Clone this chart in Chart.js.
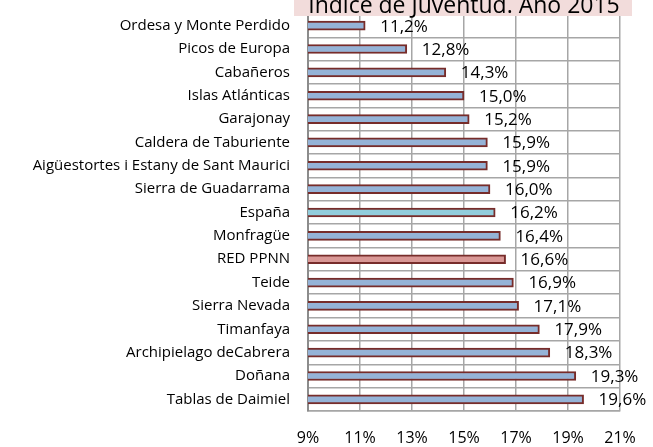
<!DOCTYPE html>
<html>
<head>
<meta charset="utf-8">
<style>
    html, body { margin: 0; padding: 0; background: #fff; }
    #wrap { width: 653px; height: 447px; }
</style>
</head>
<body>
    <div id="wrap">
        <canvas id="myChart"></canvas>
    </div>
    <script src="https://cdn.jsdelivr.net/npm/chart.js"></script>
    <script>
        // datos del gráfico
        const parques = ['Ordesa y Monte Perdido', 'Picos de Europa', 'Cabañeros', 'Islas Atlánticas',
            'Garajonay', 'Caldera de Taburiente', 'Aigüestortes i Estany de Sant Maurici',
            'Sierra de Guadarrama', 'España', 'Monfragüe', 'RED PPNN', 'Teide', 'Sierra Nevada',
            'Timanfaya', 'Archipielago deCabrera', 'Doñana', 'Tablas de Daimiel'];
        const indice = [11.2, 12.8, 14.3, 15.0, 15.2, 15.9, 15.9, 16.0, 16.2, 16.4, 16.6, 16.9, 17.1, 17.9, 18.3, 19.3, 19.6];
        const ticksX = [9, 11, 13, 15, 17, 19, 21];
        const titulo = 'Índice de Juventud. Año 2015';

        const FONT = '"Open Sans", sans-serif';

        const colores = parques.map(p => {
            if (p === 'España') return '#92cddc';
            if (p === 'RED PPNN') return '#d99795';
            return '#95b3d7';
        });

        // etiquetas de valor a la derecha de cada barra
        const etiquetas = {
            id: 'etiquetas',
            afterDatasetsDraw(chart) {
                const ctx = chart.ctx;
                const meta = chart.getDatasetMeta(0);
                ctx.save();
                ctx.font = '17px ' + FONT;
                ctx.fillStyle = '#000';
                ctx.textBaseline = 'middle';
                ctx.textAlign = 'left';
                meta.data.forEach((bar, i) => {
                    const txt = indice[i].toFixed(1).replace('.', ',') + '%';
                    ctx.fillText(txt, bar.x + 15, bar.y + 1);
                });
                ctx.restore();
            }
        };

        // titulo con fondo rosa (cortado arriba)
        const cabecera = {
            id: 'cabecera',
            afterDraw(chart) {
                const ctx = chart.ctx;
                ctx.save();
                ctx.fillStyle = '#f2dcdb';
                ctx.fillRect(294, 0, 338, 16);
                ctx.font = '23px ' + FONT;
                ctx.fillStyle = '#000';
                ctx.textAlign = 'center';
                ctx.textBaseline = 'alphabetic';
                ctx.fillText(titulo, 464, 13);
                ctx.restore();
            }
        };

        new Chart(document.querySelector('#myChart'), {
            type: 'bar',
            data: {
                labels: parques,
                datasets: [{
                    data: indice,
                    backgroundColor: colores,
                    borderColor: '#772c2a',
                    borderWidth: 2,
                    borderSkipped: false,
                    barThickness: 9
                }]
            },
            options: {
                indexAxis: 'y',
                responsive: true,
                maintainAspectRatio: false,
                animation: false,
                layout: { padding: { top: 14, right: 33, left: 0, bottom: 0 } },
                plugins: {
                    legend: { display: false },
                    tooltip: { enabled: false }
                },
                scales: {
                    x: {
                        min: 9,
                        max: 21,
                        afterBuildTicks(axis) {
                            axis.ticks = ticksX.map(v => ({ value: v }));
                        },
                        afterFit(axis) {
                            axis.height = 36;
                            axis.paddingLeft = 0;
                            axis.paddingRight = 0;
                        },
                        grid: { color: '#a6a6a6', lineWidth: 1.5, drawTicks: false },
                        border: { color: '#a6a6a6', width: 1.5 },
                        ticks: {
                            padding: 18,
                            color: '#000',
                            font: { family: FONT, size: 16 },
                            callback: v => v + '%'
                        }
                    },
                    y: {
                        afterFit(axis) {
                            axis.width = 308;
                            axis.paddingTop = 0;
                            axis.paddingBottom = 0;
                        },
                        grid: { color: '#a6a6a6', lineWidth: 1.5, drawTicks: false, offset: true },
                        border: { color: '#8c8c8c', width: 2 },
                        ticks: {
                            padding: 18,
                            color: '#000',
                            font: { family: FONT, size: 15 }
                        }
                    }
                }
            },
            plugins: [etiquetas, cabecera]
        });
    </script>
</body>
</html>
